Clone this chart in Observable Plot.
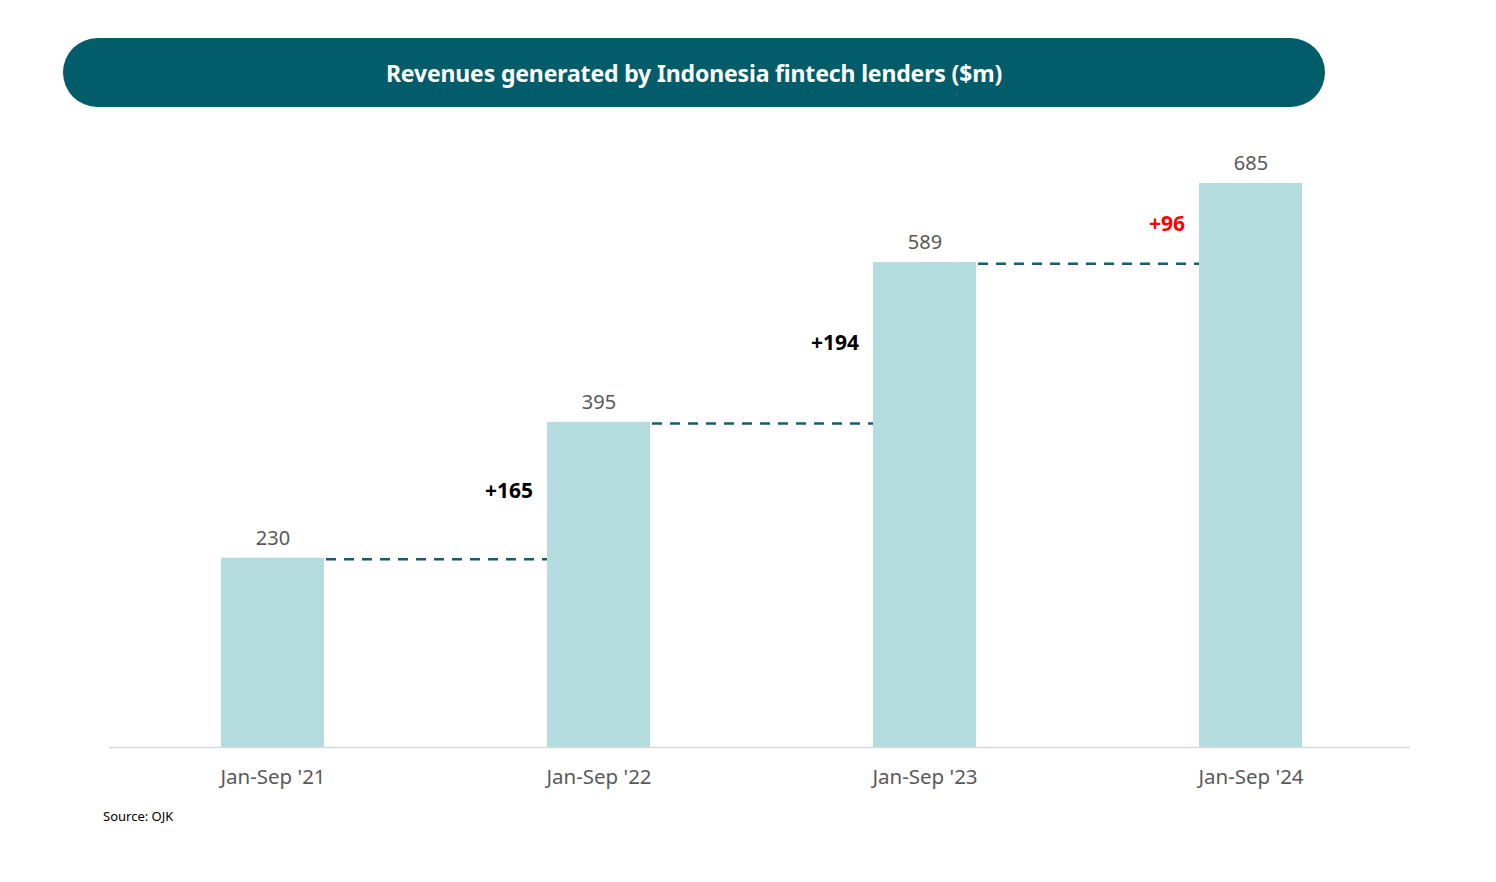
<!DOCTYPE html>
<html>
<head>
<meta charset="utf-8">
<script src="https://cdn.jsdelivr.net/npm/d3@7"></script>
<script src="https://cdn.jsdelivr.net/npm/@observablehq/plot@0.6"></script>
<style>
  html, body { margin: 0; padding: 0; background: #fff; }
  body { width: 1496px; height: 882px; position: relative; font-family: "Noto Sans", "Open Sans", sans-serif; }
  #banner {
    position: absolute; left: 63px; top: 38px; width: 1262px; height: 69px;
    border-radius: 35px; background: #025c69; color: #fff;
    display: flex; align-items: center; justify-content: center;
    font-weight: 700; font-size: 23px; letter-spacing: -0.15px;
  }
  #chart { position: absolute; left: 0; top: 120px; }
  #source { position: absolute; left: 103px; top: 807px; font-size: 13px; color: #000; }
</style>
</head>
<body>
<div id="banner">Revenues generated by Indonesia fintech lenders ($m)</div>
<div id="chart"></div>
<div id="source">Source: OJK</div>
<script>
const periods = ["Jan-Sep '21", "Jan-Sep '22", "Jan-Sep '23", "Jan-Sep '24"];
const revenues = [230, 395, 589, 685];
const highlightPeriod = "Jan-Sep '24";

const data = periods.map((p, i) => ({period: p, value: revenues[i]}));
const steps = periods.slice(1).map((p, i) => ({
  from: periods[i], to: p,
  base: revenues[i], top: revenues[i + 1],
  delta: revenues[i + 1] - revenues[i]
}));

const font = "'Noto Sans', 'Open Sans', sans-serif";

const chart = Plot.plot({
  width: 1496,
  height: 690,
  marginLeft: 109,
  marginRight: 86,
  marginTop: 63,
  marginBottom: 63,
  style: {fontFamily: font, background: "transparent"},
  x: {domain: periods, paddingInner: 0.684, paddingOuter: 0.337, align: 0.51, label: null},
  y: {domain: [0, d3.max(revenues)], axis: null},
  marks: [
    Plot.link(steps, {
      x1: "from", x2: "to", y1: "base", y2: "base",
      dy: 1.2, stroke: "#135f6b", strokeWidth: 2.5, strokeDasharray: "10,8", strokeDashoffset: 1
    }),
    Plot.barY(data, {x: "period", y: "value", fill: "#b4dcde"}),
    Plot.ruleY([0], {stroke: "#d9d9d9", strokeWidth: 1.5}),
    Plot.text(data, {
      x: "period", y: "value", text: d => String(d.value),
      dy: -20, fontSize: 20, fill: "#595959"
    }),
    Plot.text(steps, {
      x: "to", y: d => (d.base + d.top) / 2, text: d => "+" + d.delta,
      textAnchor: "end", dx: -66, dy: 1, fontSize: 21, fontWeight: "bold",
      fill: d => d.to === highlightPeriod ? "#ff0000" : "#000000"
    }),
    Plot.axisX({tickSize: 0, tickPadding: 22, fontSize: 20.5, color: "#595959", label: null})
  ]
});
document.getElementById("chart").appendChild(chart);
</script>
</body>
</html>
